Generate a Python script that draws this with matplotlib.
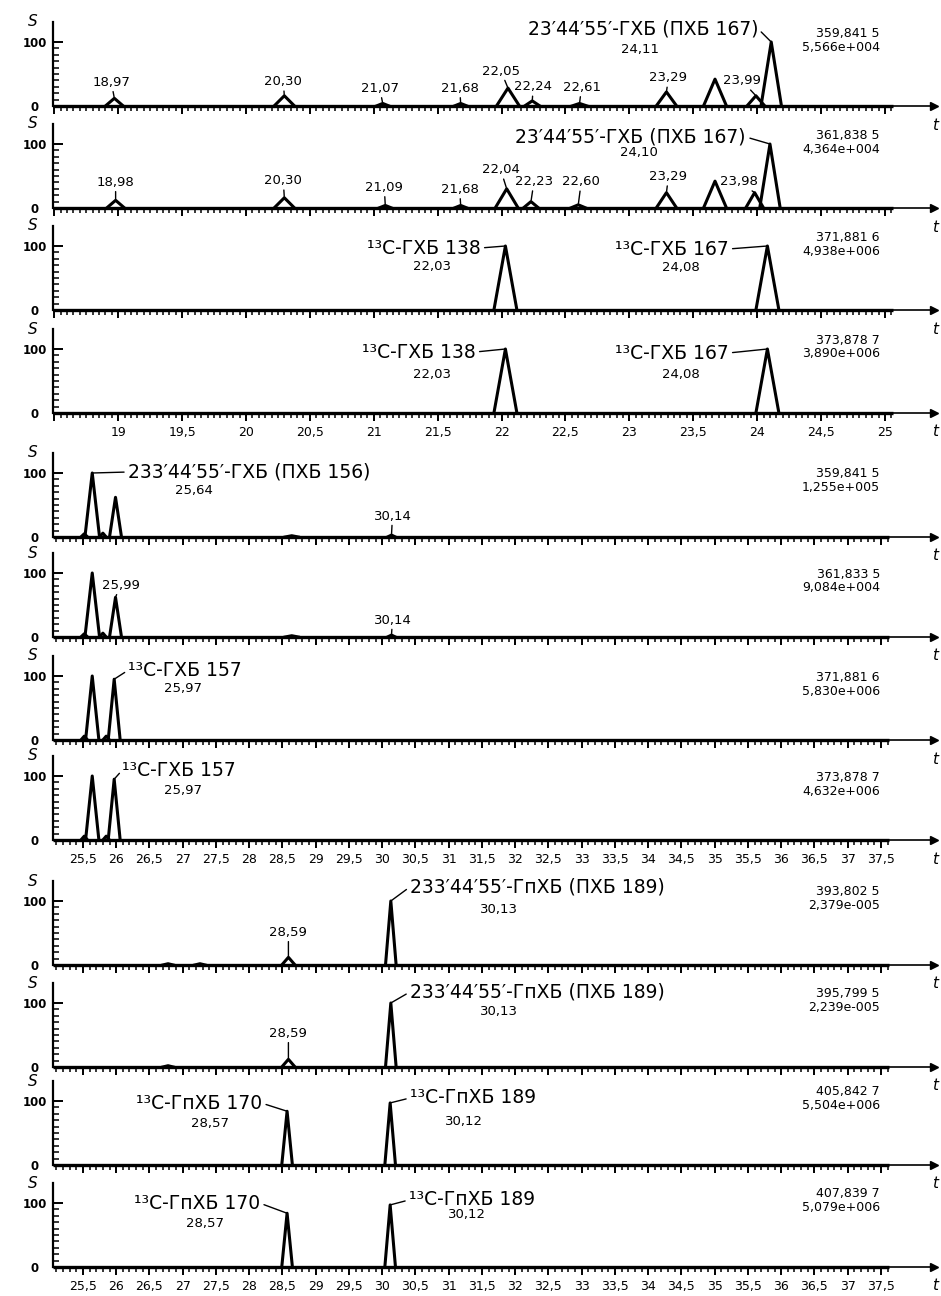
import numpy as np
import matplotlib.pyplot as plt
from matplotlib.ticker import FixedLocator, FuncFormatter

plt.rcParams['font.family'] = ['DejaVu Sans']

W, H = 941, 1296

# Peaks: retention time (min), relative height (%), half-width at base (min)
# group A: 18.5 - 25 min
P1_T = [18.97, 20.30, 21.07, 21.68, 22.05, 22.24, 22.61, 23.29, 23.67, 23.99, 24.11]
P1_H = [12, 16, 4, 4, 28, 8, 4, 22, 42, 16, 100]
P1_W = [0.07, 0.08, 0.05, 0.05, 0.09, 0.06, 0.06, 0.08, 0.09, 0.07, 0.08]

P2_T = [18.98, 20.30, 21.09, 21.68, 22.04, 22.23, 22.60, 23.29, 23.67, 23.98, 24.10]
P2_H = [12, 16, 4, 4, 30, 10, 5, 24, 42, 24, 100]
P2_W = [0.07, 0.08, 0.05, 0.05, 0.09, 0.06, 0.06, 0.08, 0.09, 0.07, 0.08]

P3_T = [22.03, 24.08]
P3_H = [100, 100]
P3_W = [0.09, 0.09]

P4_T = [22.03, 24.08]
P4_H = [100, 100]
P4_W = [0.09, 0.09]

# group B: 25 - 37.5 min
P5_T = [25.52, 25.64, 25.80, 25.99, 28.64, 30.14]
P5_H = [5, 100, 6, 62, 2, 3]
P5_W = [0.05, 0.11, 0.05, 0.09, 0.10, 0.06]

P6_T = [25.52, 25.64, 25.80, 25.99, 28.64, 30.14]
P6_H = [5, 100, 6, 62, 2, 3]
P6_W = [0.05, 0.11, 0.05, 0.09, 0.10, 0.06]

P7_T = [25.52, 25.64, 25.85, 25.97]
P7_H = [6, 100, 6, 95]
P7_W = [0.05, 0.10, 0.05, 0.09]

P8_T = [25.52, 25.64, 25.85, 25.97]
P8_H = [6, 100, 6, 95]
P8_W = [0.05, 0.10, 0.05, 0.09]

# group C: 25 - 37.5 min
P9_T = [26.78, 27.26, 28.59, 30.13]
P9_H = [2, 2, 12, 100]
P9_W = [0.08, 0.08, 0.10, 0.08]

P10_T = [26.78, 28.59, 30.13]
P10_H = [2, 12, 100]
P10_W = [0.08, 0.10, 0.08]

P11_T = [28.57, 30.12]
P11_H = [84, 97]
P11_W = [0.08, 0.08]

P12_T = [28.57, 30.12]
P12_H = [84, 97]
P12_W = [0.08, 0.08]

MZ = ["359,841 5", "361,838 5", "371,881 6", "373,878 7",
      "359,841 5", "361,833 5", "371,881 6", "373,878 7",
      "393,802 5", "395,799 5", "405,842 7", "407,839 7"]
AREA = ["5,566e+004", "4,364e+004", "4,938e+006", "3,890e+006",
        "1,255e+005", "9,084e+004", "5,830e+006", "4,632e+006",
        "2,379e-005", "2,239e-005", "5,504e+006", "5,079e+006"]

N167 = "23′44′55′-ГХБ (ПХБ 167)"
N156 = "233′44′55′-ГХБ (ПХБ 156)"
N189 = "233′44′55′-ГпХБ (ПХБ 189)"
C138 = "¹³C-ГХБ 138"
C167 = "¹³C-ГХБ 167"
C157 = "¹³C-ГХБ 157"
C170 = "¹³C-ГпХБ 170"
C189 = "¹³C-ГпХБ 189"

PEAKS = [(P1_T, P1_H, P1_W), (P2_T, P2_H, P2_W), (P3_T, P3_H, P3_W), (P4_T, P4_H, P4_W),
         (P5_T, P5_H, P5_W), (P6_T, P6_H, P6_W), (P7_T, P7_H, P7_W), (P8_T, P8_H, P8_W),
         (P9_T, P9_H, P9_W), (P10_T, P10_H, P10_W), (P11_T, P11_H, P11_W), (P12_T, P12_H, P12_W)]

# layout (pixels)
BASE_Y = [106, 208, 310, 413, 537, 637, 740, 840, 965, 1067, 1165, 1267]
AX_LEFT, AX_RIGHT, AX_H = 53, 934, 84

# annotations: (kind, peak index, dx, dy[, text, ha])  offsets in pixels from the apex
LAYOUT = [
    [('lead', 0, -3, 16), ('lead', 1, -1, 14), ('lead', 2, -3, 15), ('lead', 3, -1, 15),
     ('lead', 4, -7, 17), ('lead', 5, 1, 14), ('lead', 6, 2, 16), ('lead', 7, 2, 14),
     ('lead', 9, -14, 15), ('name', 10, -13, 13, N167, 'right'), ('plain', 10, -131, -7)],
    [('lead', 0, 0, 18), ('lead', 1, -1, 17), ('lead', 2, -1, 18), ('lead', 3, -1, 16),
     ('lead', 4, -6, 19), ('lead', 5, 3, 20), ('lead', 6, 3, 23), ('lead', 7, 2, 16),
     ('lead', 9, -16, 11), ('name', 10, -24, 7, N167, 'right'), ('plain', 10, -131, -8)],
    [('name', 0, -25, -2, C138, 'right'), ('plain', 0, -73, -20),
     ('name', 1, -39, -3, C167, 'right'), ('plain', 1, -87, -21)],
    [('name', 0, -30, -3, C138, 'right'), ('plain', 0, -73, -25),
     ('name', 1, -39, -4, C167, 'right'), ('plain', 1, -87, -25)],
    [('name', 1, 36, 1, N156, 'left'), ('plain', 1, 102, -17), ('lead', 5, 1, 19)],
    [('lead', 3, 5, 12), ('lead', 5, 1, 15)],
    [('name', 3, 14, 9, C157, 'left'), ('plain', 3, 69, -9)],
    [('name', 3, 8, 9, C157, 'left'), ('plain', 3, 69, -11)],
    [('name', 3, 19, 14, N189, 'left'), ('plain', 3, 108, -9), ('lead', 2, 0, 25)],
    [('name', 2, 19, 11, N189, 'left'), ('plain', 2, 108, -9), ('lead', 1, 0, 26)],
    [('name', 0, -25, 8, C170, 'right'), ('plain', 0, -77, -12),
     ('name', 1, 20, 5, C189, 'left'), ('plain', 1, 74, -19)],
    [('name', 0, -27, 10, C170, 'right'), ('plain', 0, -82, -10),
     ('name', 1, 19, 5, C189, 'left'), ('plain', 1, 77, -10)],
]

# x scales of the two time windows
GROUP_A = dict(xmin=18.49, scale=127.8, tick_end=25.06, first=19.0,
               majors=np.arange(18.5, 25.01, 0.5), minors=np.arange(18.5, 25.07, 0.05))
GROUP_B = dict(xmin=25.05, scale=66.5, tick_end=37.62, first=25.5,
               majors=np.arange(25.5, 37.51, 0.5), minors=np.arange(25.1, 37.62, 0.1))


def fmt_time(t):
    return f'{t:.2f}'.replace('.', ',')


def fx(px):
    return px / W


def fy(py):
    return 1 - py / H


fig = plt.figure(figsize=(W / 100, H / 100), dpi=100)

for i, (t, h, w) in enumerate(PEAKS):
    g = GROUP_A if i < 4 else GROUP_B
    base = BASE_Y[i]
    show_x = i in (3, 7, 11)
    xmin = g['xmin']
    xmax = xmin + (AX_RIGHT - AX_LEFT) / g['scale']

    ax = fig.add_axes([fx(AX_LEFT), fy(base), (AX_RIGHT - AX_LEFT) / W, AX_H / H])
    ax.set_xlim(xmin, xmax)
    ax.set_ylim(0, 100 * AX_H / 64)
    ax.patch.set_alpha(0)
    for s in ('top', 'right'):
        ax.spines[s].set_visible(False)
    ax.spines['left'].set_linewidth(1.6)
    ax.spines['bottom'].set_linewidth(1.2)

    # trace: baseline + peaks
    ax.plot([xmin, g['tick_end']], [0, 0], color='k', lw=2.4,
            solid_capstyle='butt', clip_on=False)
    for ti, hi, wi in zip(t, h, w):
        ax.plot([ti - wi, ti, ti + wi], [0, hi, 0], color='k', lw=2.2, clip_on=False)

    # axis arrows
    ax.plot(1, 0, marker='>', color='k', ms=6, transform=ax.get_yaxis_transform(), clip_on=False)
    ax.plot(0, 1, marker='^', color='k', ms=6, transform=ax.get_xaxis_transform(), clip_on=False)

    # x ticks
    first = g['first']
    ax.xaxis.set_major_locator(FixedLocator(g['majors']))
    ax.xaxis.set_minor_locator(FixedLocator(g['minors']))
    ax.xaxis.set_major_formatter(FuncFormatter(
        lambda v, p, first=first: '' if v < first - 1e-6 else f'{v:g}'.replace('.', ',')))
    ax.tick_params(axis='x', which='major', direction='out', length=5.5, width=1.4,
                   pad=4, labelsize=9, labelbottom=show_x)
    ax.tick_params(axis='x', which='minor', direction='out', length=3.5, width=1.1)

    # y ticks
    ax.yaxis.set_major_locator(FixedLocator([0, 100]))
    ax.yaxis.set_minor_locator(FixedLocator(range(10, 100, 10)))
    ax.set_yticklabels(['0', '100'])
    ax.tick_params(axis='y', which='major', direction='in', length=7, width=1.4,
                   pad=13, labelsize=8.5)
    ax.tick_params(axis='y', which='minor', direction='in', length=4.5, width=1.1)
    plt.setp(ax.get_yticklabels(), ha='center', fontweight='bold')

    # labels
    for item in LAYOUT[i]:
        kind, k, dx, dy = item[:4]
        xy = (t[k], h[k])
        if kind == 'lead':
            ax.annotate(fmt_time(t[k]), xy, xytext=(dx, dy), textcoords='offset pixels',
                        ha='center', va='center', fontsize=9.5,
                        arrowprops=dict(arrowstyle='-', color='k', lw=1.0, shrinkA=0, shrinkB=1))
        elif kind == 'plain':
            ax.annotate(fmt_time(t[k]), xy, xytext=(dx, dy), textcoords='offset pixels',
                        ha='center', va='center', fontsize=9.5)
        else:
            text, ha = item[4], item[5]
            ax.annotate(text, xy, xytext=(dx, dy), textcoords='offset pixels',
                        ha=ha, va='center', fontsize=13.5,
                        arrowprops=dict(arrowstyle='-', color='k', lw=1.0, patchA=None,
                                        relpos=(1, 0.5) if ha == 'right' else (0, 0.5),
                                        shrinkA=3, shrinkB=0))

    # axis names and panel info
    fig.text(fx(33), fy(base - 84), 'S', ha='center', va='center', fontsize=11, style='italic')
    fig.text(fx(935), fy(base + 19), 't', ha='center', va='center', fontsize=11, style='italic')
    off1, off2 = (63, 49) if 4 <= i < 8 else (73, 59)
    fig.text(fx(880), fy(base - off1), MZ[i], ha='right', va='center', fontsize=9)
    fig.text(fx(880), fy(base - off2), AREA[i], ha='right', va='center', fontsize=9)

fig.savefig('out.png', dpi=100)
